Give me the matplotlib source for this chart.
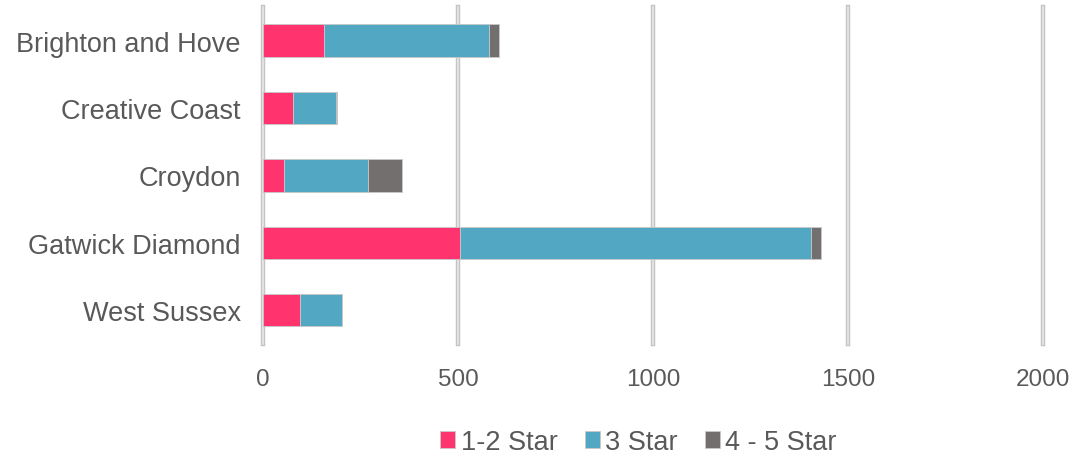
import matplotlib
matplotlib.use("Agg")
import matplotlib.pyplot as plt
import numpy as np

regions = ["Brighton and Hove", "Creative Coast", "Croydon", "Gatwick Diamond", "West Sussex"]
star_12 = [156, 77, 55, 504, 94]
star_3 = [423, 110, 214, 901, 108]
star_45 = [26, 3, 88, 26, 0]
series_labels = ["1-2 Star", "3 Star", "4 - 5 Star"]
colors = ["#FF346E", "#52A7C3", "#736F6F"]
xticks = [0, 500, 1000, 1500, 2000]

plt.rcParams["font.family"] = ["Liberation Sans", "DejaVu Sans"]
text_color = "#595959"

fig = plt.figure(figsize=(10.74, 4.6), dpi=100)
ax = fig.add_axes([0.2449, 0.25, 0.7262, 0.733])

y = np.arange(len(regions))
left = np.zeros(len(regions))
for vals, lab, col in zip([star_12, star_3, star_45], series_labels, colors):
    ax.barh(y, vals, left=left, height=0.48, color=col, label=lab,
            edgecolor="#c8c8c8", linewidth=0.6, zorder=3)
    left += np.array(vals)

ax.set_xlim(0, 2000)
ax.set_ylim(len(regions) - 0.5, -0.5)
ax.set_xticks(xticks)
ax.set_xticklabels([str(t) for t in xticks])
ax.set_yticks(y)
ax.set_yticklabels(regions)
ax.tick_params(axis="both", length=0, colors=text_color)
ax.tick_params(axis="x", pad=17, labelsize=17.5)
ax.tick_params(axis="y", pad=16, labelsize=19.5)
for s in ax.spines.values():
    s.set_visible(False)

# double-edged vertical gridlines
for t in xticks:
    ax.axvline(t, color="#c4c4c4", linewidth=3.2, zorder=0, clip_on=False)
    ax.axvline(t, color="#e8e8e8", linewidth=1.2, zorder=0.5, clip_on=False)

fig.legend(loc="center", bbox_to_anchor=(0.5945, 0.037), ncol=3, frameon=False,
           fontsize=19.5, handlelength=0.55, handleheight=0.55, handletextpad=0.2,
           columnspacing=1.0, labelcolor=text_color)

fig.savefig("out.png", dpi=100)
